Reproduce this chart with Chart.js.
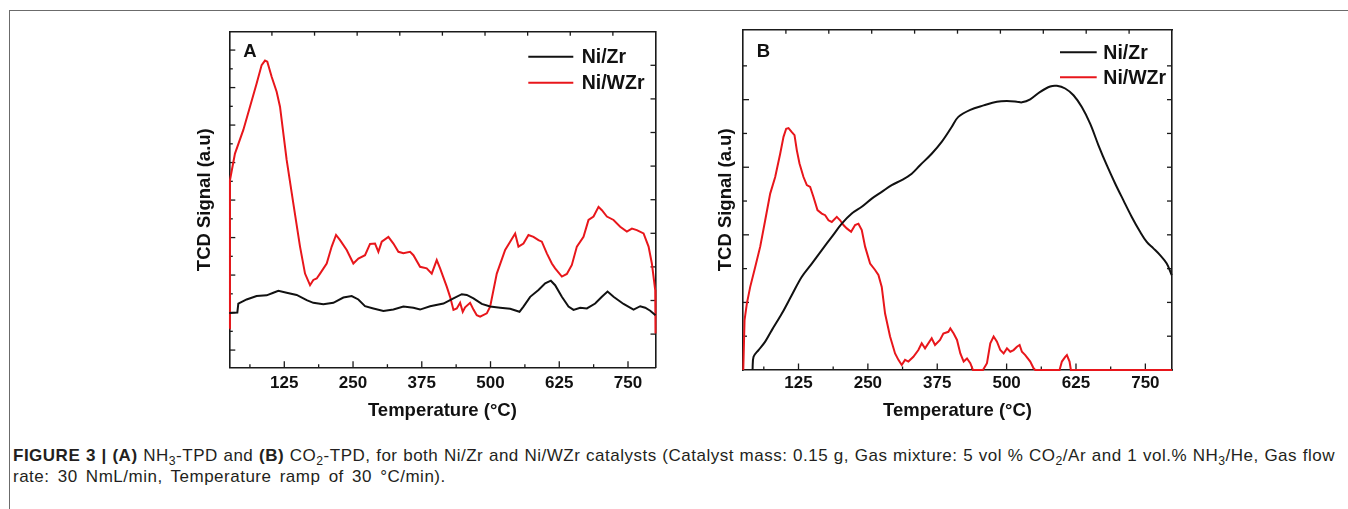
<!DOCTYPE html>
<html>
<head>
<meta charset="utf-8">
<script src="https://cdn.jsdelivr.net/npm/chart.js@4.4.0/dist/chart.umd.min.js"></script>
<style>
  body { margin: 0; background: #fff; width: 1348px; height: 509px; overflow: hidden; position: relative;
         font-family: "Liberation Sans", Arial, sans-serif; }
  .frame { position: absolute; left: 9px; top: 10px; width: 1400px; height: 560px; border: 1.5px solid #6b6b6b; }
  #chartA { position: absolute; left: 180px; top: 10px; }
  #chartB { position: absolute; left: 690px; top: 10px; }
  .caption { position: absolute; left: 13px; top: 445px; width: 1322px; font-size: 17px; line-height: 21px;
             letter-spacing: 0.5px; color: #231f20; white-space: nowrap; }
  .caption .l1 { text-align: justify; text-align-last: justify; }
  .caption .l2 { word-spacing: 3px; }
  .caption sub { font-size: 0.72em; vertical-align: -0.35em; line-height: 0; }
</style>
</head>
<body>
<div class="frame"></div>
<canvas id="chartA" width="500" height="420"></canvas>
<canvas id="chartB" width="500" height="420"></canvas>
<div class="caption">
  <div class="l1"><b>FIGURE 3 | (A)</b> NH<sub>3</sub>-TPD and <b>(B)</b> CO<sub>2</sub>-TPD, for both Ni/Zr and Ni/WZr catalysts (Catalyst mass: 0.15 g, Gas mixture: 5 vol % CO<sub>2</sub>/Ar and 1 vol.% NH<sub>3</sub>/He, Gas flow</div>
  <div class="l2">rate: 30 NmL/min, Temperature ramp of 30 °C/min).</div>
</div>
<script>
// axis ticks (temperature in °C, signal in arbitrary units)
const tempTicks = [125, 250, 375, 500, 625, 750];
const tempMinor = [62.5, 187.5, 312.5, 437.5, 562.5, 687.5];
const frameTicks = [1, 2, 3, 4, 5, 6, 7, 8, 9];
const sigTicksA = [0, 10, 20, 30, 40, 50, 60, 70, 80];
const sigMinorA = [5, 15, 25, 35, 45, 55, 65, 75];
const sigTicksB = [20, 40, 60, 80];
const sigMinorB = [10, 30, 50, 70, 90];
const sigRightB = [10, 20, 30, 40, 50, 60, 70, 80, 90];

// (A) NH3-TPD
const aZrTemp = [25, 39.6, 41.4, 56.5, 74.7, 92.9, 105.1, 114.2, 129.3, 147.5, 165.7, 177.8, 196.0, 214.2, 232.4, 247.6, 259.7, 271.8, 287.0, 305.2, 323.4, 341.6, 359.8, 371.9, 390.1, 414.4, 432.6, 447.7, 456.8, 469.0, 484.1, 499.3, 517.5, 535.7, 552.7, 559.9, 572.1, 587.2, 599.4, 609.7, 617.5, 629.7, 641.8, 650.9, 663.0, 675.2, 690.3, 702.5, 712.8, 723.7, 741.9, 760.1, 772.2, 781.3, 790.4, 800];
const aZrSig = [9.9, 10.0, 12.4, 13.5, 14.4, 14.6, 15.3, 15.8, 15.3, 14.7, 13.3, 12.6, 12.2, 12.6, 14.0, 14.4, 13.5, 11.7, 11.1, 10.4, 10.8, 11.6, 11.3, 10.8, 11.7, 12.4, 13.8, 14.9, 14.7, 13.8, 12.3, 11.6, 11.3, 11.0, 10.2, 11.6, 14.2, 16.0, 17.8, 18.5, 17.3, 14.2, 11.6, 10.7, 11.3, 11.1, 12.4, 14.2, 15.6, 14.2, 12.3, 10.8, 11.7, 11.3, 10.5, 9.3];
const aWZrTemp = [25, 26.2, 35.3, 50.5, 62.6, 74.7, 83.8, 89.9, 94.1, 102.0, 111.1, 117.2, 129.3, 141.4, 153.6, 162.7, 171.8, 177.8, 183.9, 190.0, 202.1, 211.2, 219.1, 226.4, 238.5, 250.6, 259.7, 271.8, 280.9, 290.0, 296.1, 302.2, 314.3, 323.4, 332.5, 341.6, 353.7, 359.8, 371.9, 384.0, 393.1, 402.2, 408.3, 420.4, 426.5, 432.6, 438.6, 444.7, 449.5, 453.8, 462.9, 469.0, 475.0, 481.1, 493.2, 499.3, 511.4, 526.6, 535.7, 544.8, 550.8, 559.9, 569.0, 578.1, 587.2, 593.3, 602.4, 611.5, 617.5, 629.7, 638.8, 647.9, 657.0, 669.1, 678.2, 687.3, 696.4, 702.5, 711.6, 723.7, 735.8, 747.9, 757.1, 766.1, 778.3, 787.4, 793.4, 799.5, 800];
const aWZrSig = [5.8, 45.3, 52.4, 58.7, 64.9, 71.1, 76.0, 77.2, 76.9, 72.9, 68.9, 64.9, 50.7, 39.1, 27.6, 20.4, 17.3, 18.7, 19.1, 20.4, 23.1, 27.6, 30.7, 29.3, 26.7, 23.1, 24.4, 25.3, 28.3, 28.4, 26.2, 28.9, 30.2, 28.4, 26.2, 25.8, 26.2, 25.3, 22.2, 21.8, 20.4, 24.0, 21.8, 16.9, 14.2, 10.7, 11.1, 12.6, 10.2, 11.4, 12.6, 10.8, 9.3, 8.9, 9.8, 11.6, 20.4, 26.7, 28.9, 31.1, 27.6, 28.4, 30.7, 30.2, 29.3, 28.9, 25.8, 23.1, 21.8, 19.6, 20.3, 22.7, 27.6, 30.2, 34.7, 35.6, 38.2, 37.3, 35.6, 34.7, 32.9, 31.6, 32.4, 32.0, 31.1, 27.6, 23.1, 16.0, 4.4];

// (B) CO2-TPD
const bZrTemp = [42.2, 44.0, 53.0, 65.0, 77.0, 95.0, 113.0, 131.0, 149.0, 167.0, 185.0, 203.0, 221.0, 239.0, 257.0, 275.0, 293.0, 311.0, 329.0, 344.0, 365.0, 383.0, 401.0, 413.0, 434.5, 458.5, 482.5, 500.5, 518.5, 527.5, 542.5, 560.5, 578.5, 590.5, 605.5, 620.5, 635.5, 650.5, 665.5, 680.5, 695.5, 710.5, 725.5, 740.5, 752.5, 764.5, 776.5, 788.5, 797.5];
const bZrSig = [0, 3.9, 5.9, 8.4, 11.8, 16.7, 22.2, 27.6, 31.5, 35.5, 39.4, 43.3, 46.3, 48.3, 50.7, 52.7, 54.7, 56.2, 58.1, 60.6, 64.0, 67.5, 71.9, 74.9, 77.0, 78.3, 79.4, 79.6, 79.4, 79.2, 80.1, 82.3, 83.9, 84.1, 83.3, 81.3, 77.8, 72.9, 66.5, 60.6, 55.2, 50.2, 45.3, 40.9, 37.9, 36.0, 34.0, 31.5, 28.1];
const bWZrTemp = [25.5, 27.8, 32.0, 38.0, 47.0, 56.0, 65.0, 74.0, 83.0, 92.0, 98.0, 102.8, 107.0, 113.0, 117.8, 122.0, 126.8, 134.0, 140.0, 146.0, 152.0, 159.2, 167.0, 173.0, 179.0, 185.0, 194.0, 200.0, 206.0, 212.0, 219.8, 227.0, 233.0, 239.0, 245.0, 254.0, 263.0, 269.0, 275.0, 281.0, 290.0, 299.0, 305.0, 311.0, 317.0, 323.0, 332.0, 341.0, 347.0, 353.0, 365.0, 371.0, 380.0, 386.0, 395.0, 398.6, 404.6, 410.6, 416.6, 422.6, 428.6, 434.6, 439.4, 457.4, 464.6, 470.6, 476.6, 482.6, 488.6, 494.6, 500.6, 506.6, 512.6, 518.6, 523.4, 527.6, 533.6, 542.6, 548.6, 551.6, 595.4, 599.6, 605.6, 608.6, 613.4, 615.8, 798];
const bWZrSig = [0, 14.8, 19.7, 24.6, 30.5, 36.5, 44.3, 52.2, 57.1, 64.0, 69.0, 71.4, 71.6, 70.4, 69.5, 65.0, 61.1, 57.1, 54.7, 54.2, 51.2, 47.3, 46.3, 45.8, 44.3, 43.8, 45.3, 44.3, 42.9, 41.9, 40.9, 42.9, 43.3, 41.4, 36.5, 31.5, 29.6, 28.1, 24.6, 16.7, 9.9, 4.9, 3.0, 1.5, 3.0, 2.5, 3.9, 5.9, 7.9, 6.4, 9.4, 7.4, 8.9, 10.8, 11.3, 12.3, 10.8, 8.9, 4.9, 2.5, 3.4, 2.0, 0, 0, 2.0, 7.9, 9.9, 8.4, 5.9, 4.9, 6.4, 5.4, 5.9, 6.9, 7.4, 5.4, 4.4, 2.5, 0.5, 0, 0, 2.5, 3.9, 4.4, 2.5, 0, 0];

const FONT = '"Liberation Sans", Arial, sans-serif';
const zip = (xs, ys) => xs.map((x, i) => ({ x: x, y: ys[i] }));

// tick marks pointing into the plot, as in the original figure
const inwardTicks = {
  id: 'inwardTicks',
  beforeDatasetsDraw(chart, args, opts) {
    const ctx = chart.ctx, area = chart.chartArea;
    ctx.save();
    ctx.strokeStyle = '#1a1a1a';
    ctx.lineWidth = 1.3;
    opts.marks.forEach(m => {
      const scale = chart.scales[m.axis];
      m.values.forEach(v => {
        const p = scale.getPixelForValue(v);
        ctx.beginPath();
        if (scale.position === 'bottom') { ctx.moveTo(p, area.bottom); ctx.lineTo(p, area.bottom - m.len); }
        else if (scale.position === 'top') { ctx.moveTo(p, area.top); ctx.lineTo(p, area.top + m.len); }
        else if (scale.position === 'left') { ctx.moveTo(area.left, p); ctx.lineTo(area.left + m.len, p); }
        else { ctx.moveTo(area.right, p); ctx.lineTo(area.right - m.len, p); }
        ctx.stroke();
      });
    });
    ctx.restore();
  }
};

// panel letter + legend drawn inside the plot area
const insideLegend = {
  id: 'insideLegend',
  afterDraw(chart, args, opts) {
    const ctx = chart.ctx, area = chart.chartArea;
    ctx.save();
    ctx.fillStyle = '#111';
    ctx.font = 'bold 18.5px ' + FONT;
    ctx.textBaseline = 'alphabetic';
    ctx.fillText(opts.letter, area.left + opts.letterDx, area.top + opts.letterDy);
    ctx.font = 'bold 19.5px ' + FONT;
    ctx.textBaseline = 'middle';
    chart.data.datasets.forEach((ds, i) => {
      const y = area.top + opts.dy + i * opts.rowH;
      const x0 = area.right - opts.dx;
      ctx.strokeStyle = ds.borderColor;
      ctx.lineWidth = 2;
      ctx.beginPath(); ctx.moveTo(x0, y); ctx.lineTo(x0 + opts.lineLen, y); ctx.stroke();
      ctx.fillText(ds.label, x0 + opts.lineLen + opts.gap, y + 1);
    });
    ctx.restore();
  }
};

function tpdChart(id, c) {
  const border = { display: true, color: '#1a1a1a', width: 1.6 };
  const hidden = { display: false, drawTicks: false };
  return new Chart(document.getElementById(id), {
    type: 'line',
    data: {
      datasets: [
        { label: 'Ni/Zr', data: zip(c.zrT, c.zrS), borderColor: '#111111', tension: c.zrTension, clip: 4 },
        { label: 'Ni/WZr', data: zip(c.wT, c.wS), borderColor: '#e8161b', tension: 0, clip: 4 }
      ]
    },
    options: {
      responsive: false,
      animation: false,
      devicePixelRatio: 1,
      layout: { padding: c.pad },
      elements: { point: { radius: 0 }, line: { borderWidth: 2 } },
      plugins: {
        legend: { display: false },
        tooltip: { enabled: false },
        inwardTicks: { marks: c.marks },
        insideLegend: c.legend
      },
      scales: {
        x: {
          type: 'linear', position: 'bottom', min: c.xMin, max: c.xMax,
          afterBuildTicks: s => { s.ticks = tempTicks.map(v => ({ value: v })); },
          afterFit: s => { s.height = c.xAxisH; },
          grid: hidden, border: border,
          ticks: { padding: c.tickPad, color: '#111', maxRotation: 0, autoSkip: false, font: { family: FONT, size: 17, weight: 'bold' } },
          title: { display: true, text: 'Temperature (°C)', color: '#111', padding: { top: 0, bottom: 0 },
                   font: { family: FONT, size: 18.5, weight: 'bold' } }
        },
        x2: { type: 'linear', position: 'top', min: 0, max: 10, afterFit: s => { s.height = 0; },
              grid: hidden, border: border, ticks: { display: false } },
        y: {
          type: 'linear', position: 'left', min: c.yMin, max: c.yMax,
          afterFit: s => { s.width = c.yAxisW; },
          grid: hidden, border: border, ticks: { display: false },
          title: { display: true, text: 'TCD Signal (a.u)', color: '#111', padding: { top: c.yTitleTop, bottom: 0 },
                   font: { family: FONT, size: 18.5, weight: 'bold' } }
        },
        y2: { type: 'linear', position: 'right', min: c.y2Min, max: c.y2Max, afterFit: s => { s.width = 0; },
              grid: hidden, border: border, ticks: { display: false } }
      }
    },
    plugins: [inwardTicks, insideLegend]
  });
}

tpdChart('chartA', {
  zrT: aZrTemp, zrS: aZrSig, wT: aWZrTemp, wS: aWZrSig, zrTension: 0,
  xMin: 25, xMax: 800, yMin: -4.7, yMax: 84.9, y2Min: 0, y2Max: 10,
  pad: { left: 10, top: 21.7, right: 24.5, bottom: 7.9 },
  xAxisH: 54.4, yAxisW: 39.3, tickPad: 5.4, yTitleTop: 3.9,
  marks: [
    { axis: 'x', values: tempTicks, len: 6.5 },
    { axis: 'x', values: tempMinor, len: 3.5 },
    { axis: 'x2', values: frameTicks, len: 4 },
    { axis: 'y', values: sigTicksA, len: 6 },
    { axis: 'y', values: sigMinorA, len: 3.5 },
    { axis: 'y2', values: frameTicks, len: 5 }
  ],
  legend: { letter: 'A', letterDx: 14, letterDy: 25, dx: 127.2, dy: 25, rowH: 26, lineLen: 45, gap: 8.4 }
});

tpdChart('chartB', {
  zrT: bZrTemp, zrS: bZrSig, wT: bWZrTemp, wS: bWZrSig, zrTension: 0.35,
  xMin: 25, xMax: 798, yMin: 0, yMax: 100.7, y2Min: 0, y2Max: 100.7,
  pad: { left: 20, top: 19.7, right: 18, bottom: 8.2 },
  xAxisH: 51.8, yAxisW: 33, tickPad: 3.1, yTitleTop: 4.4,
  marks: [
    { axis: 'x', values: tempTicks, len: 6.5 },
    { axis: 'x', values: tempMinor, len: 3.5 },
    { axis: 'x2', values: frameTicks, len: 4 },
    { axis: 'y', values: sigTicksB, len: 6 },
    { axis: 'y', values: sigMinorB, len: 4 },
    { axis: 'y2', values: sigRightB, len: 5 }
  ],
  legend: { letter: 'B', letterDx: 13.7, letterDy: 27, dx: 112, dy: 22.6, rowH: 25, lineLen: 36.7, gap: 6.6 }
});
</script>
</body>
</html>
